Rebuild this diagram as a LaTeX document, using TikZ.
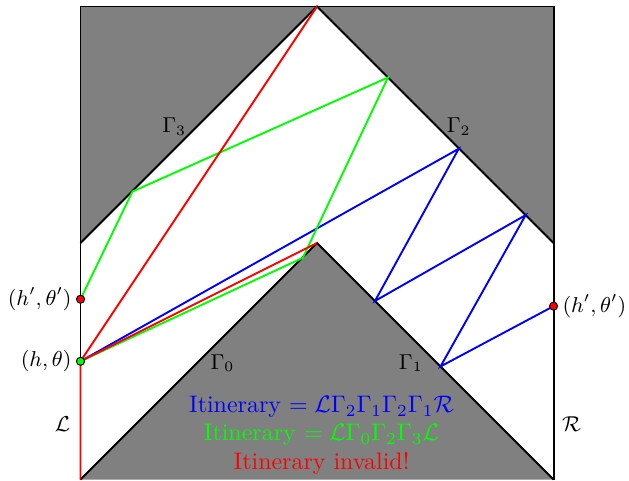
\documentclass[tikz,border=0pt]{standalone}
\usepackage{amsmath,amssymb}
\usepackage{tikz}

\begin{document}
\begin{tikzpicture}[x=1.736cm,y=1.736cm,thick]
  \useasboundingbox (-2.681,-2.004) rectangle (2.638,2.055);
  % obstacles
  \fill[gray] (-2,2) -- (2,2) -- (2,0) -- (0,2) -- (-2,0) -- cycle;
  \fill[gray] (-2,-2) -- (0,0) -- (2,-2) -- cycle;
  \draw (-2,-2) -- (-2,2) -- (2,2) -- (2,-2);
  \draw (-2,0) -- (0,2) -- (2,0);
  \draw (-2,-2) -- (0,0) -- (2,-2);
  % points of the billiard
  \coordinate (corner) at (-2,-2);
  \coordinate (start) at (-2,-1);
  \coordinate (exitL) at (-2,-0.475);
  \coordinate (exitR) at (2,-0.534);
  \coordinate (apexT) at (0,2);
  \coordinate (apexB) at (0,0);
  \coordinate (g0) at (-0.12,-0.125);
  \coordinate (g2) at (0.6,1.4);
  \coordinate (g3) at (-1.561,0.435);
  \coordinate (b2a) at (1.198,0.797);
  \coordinate (b1a) at (0.49,-0.49);
  \coordinate (b2b) at (1.764,0.236);
  \coordinate (b1b) at (1.044,-1.044);
  % trajectories
  \draw[blue] (start) -- (b2a) -- (b1a) -- (b2b) -- (b1b) -- (exitR);
  \draw[green] (start) -- (g0) -- (g2) -- (g3) -- (exitL);
  \draw[red] (corner) -- (start) -- (apexT);
  \draw[red] (start) -- (apexB);
  \filldraw[fill=green,draw=black,thin] (start) circle (1.7pt);
  \filldraw[fill=red,draw=black,thin] (exitL) circle (1.7pt);
  \filldraw[fill=red,draw=black,thin] (exitR) circle (1.7pt);
  \node[left,font=\small] (lblS) at (start) {$(h,\theta)$};
  \node[left,font=\small] (lblL) at (exitL) {$(h',\theta')$};
  \node[right,font=\small] (lblR) at (exitR) {$(h',\theta')$};
  % labels
  \node[font=\small] (gam0) at (-0.80,-1.017) {$\Gamma_0$};
  \node[font=\small] (gam1) at (0.793,-1.017) {$\Gamma_1$};
  \node[font=\small] (gam2) at (1.198,0.983) {$\Gamma_2$};
  \node[font=\small] (gam3) at (-1.207,0.983) {$\Gamma_3$};
  \node[font=\small] (wallL) at (-2.152,-1.534) {$\mathcal{L}$};
  \node[font=\small] (wallR) at (2.152,-1.534) {$\mathcal{R}$};
  \node[blue] (itinB) at (0.038,-1.385) {Itinerary $= \mathcal{L}\Gamma_2\Gamma_1\Gamma_2\Gamma_1\mathcal{R}$};
  \node[green] (itinG) at (0.038,-1.622) {Itinerary $= \mathcal{L}\Gamma_0\Gamma_2\Gamma_3\mathcal{L}$};
  \node[red] (itinR) at (0.038,-1.86) {Itinerary invalid!};
\end{tikzpicture}
\end{document}
